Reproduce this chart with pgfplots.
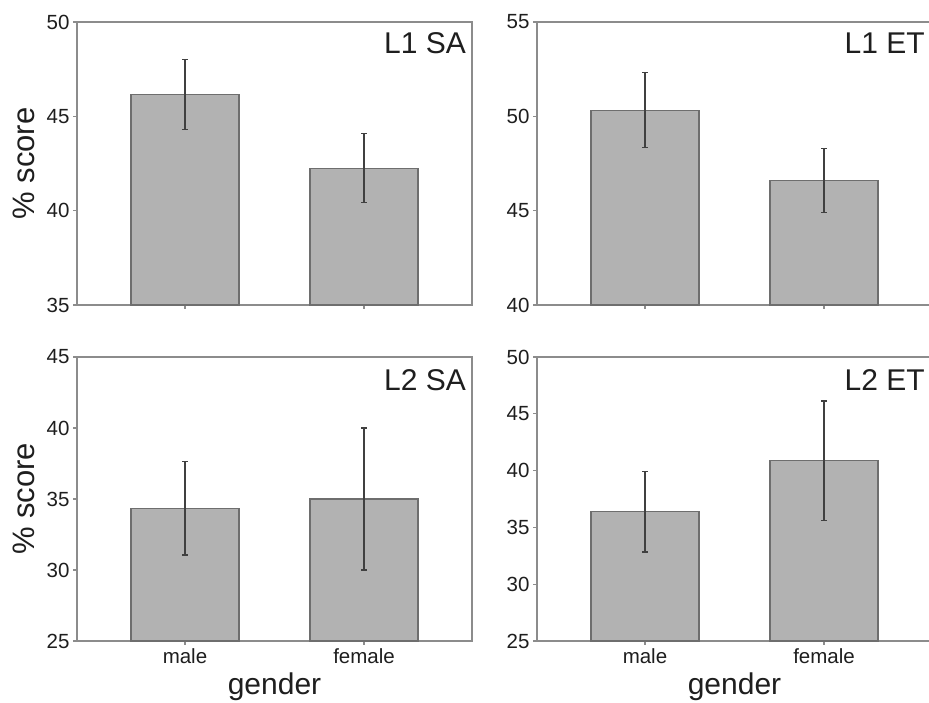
\documentclass[border=0pt]{standalone}
\usepackage{pgfplots}
\pgfplotsset{compat=1.18}
\usepackage{fontspec}
\setmainfont{Liberation Sans}
\definecolor{barfill}{HTML}{B2B2B2}
\definecolor{baredge}{HTML}{6E6E6E}
\definecolor{axgray}{HTML}{8C8C8C}
\definecolor{errc}{HTML}{404040}
\definecolor{txt}{HTML}{1E1E1E}
\tikzset{ptitle/.style={font=\fontsize{30bp}{36bp}\selectfont, text=txt, anchor=east, inner sep=0pt}}
\pgfplotsset{
  panel/.style={
    overlay,
    scale only axis, width=395bp, height=283bp,
    xmin=-0.603, xmax=1.603, xtick={0,1}, xticklabels={},
    ybar, bar width=108bp,
    axis line style={draw=axgray, line width=1.1bp},
    tick style={draw=axgray, line width=1.1bp},
    major tick length=4bp, tick align=outside,
    xtick pos=bottom, ytick pos=left,
    ticklabel style={font=\fontsize{20.5bp}{24bp}\selectfont, text=txt},
    /pgf/number format/assume math mode=true,
    ylabel style={font=\fontsize{31bp}{36bp}\selectfont, text=txt},
    clip=false,
  },
  bars/.style={fill=barfill, draw=baredge, line width=1.1bp,
    error bars/.cd, y dir=both, y explicit,
    error mark=-,
    error bar style={draw=errc, line width=1.2bp},
    error mark options={rotate=90, draw=errc, line width=1.2bp, mark size=2.7bp}},
  ylab/.style={ylabel={\% score}, ylabel style={at={(axis description cs:-0.134,0.5)}, anchor=center, rotate=0}},
  glab/.style={xticklabels={male,female}, xlabel={gender},
    xlabel style={font=\fontsize{30bp}{36bp}\selectfont, text=txt, at={(axis description cs:0.5,-0.19)}, anchor=base}},
}
\begin{document}
\begin{tikzpicture}
\path (0bp,0bp) rectangle (929bp,703bp);
\clip (0bp,0bp) rectangle (929bp,703bp);
% top-left
\begin{axis}[panel, at={(77bp,398bp)}, anchor=south west, ymin=35, ymax=50, ytick={35,40,45,50}, ylab]
\addplot[bars] coordinates {(0,46.15) +- (0,1.85) (1,42.25) +- (0,1.83)};
\node[ptitle] at (rel axis cs:0.985,0.926) {L1 SA};
\end{axis}
% top-right
\begin{axis}[panel, at={(537bp,398bp)}, anchor=south west, ymin=40, ymax=55, ytick={40,45,50,55}]
\addplot[bars] coordinates {(0,50.33) +- (0,2.0) (1,46.6) +- (0,1.68)};
\node[ptitle] at (rel axis cs:0.982,0.926) {L1 ET};
\end{axis}
% bottom-left
\begin{axis}[panel, height=284bp, at={(77bp,62bp)}, anchor=south west, ymin=25, ymax=45, ytick={25,30,35,40,45}, ylab, glab]
\addplot[bars] coordinates {(0,34.35) +- (0,3.3) (1,35.0) +- (0,5.0)};
\node[ptitle] at (rel axis cs:0.985,0.92) {L2 SA};
\end{axis}
% bottom-right
\begin{axis}[panel, height=284bp, at={(537bp,62bp)}, anchor=south west, ymin=25, ymax=50, ytick={25,30,35,40,45,50}, glab]
\addplot[bars] coordinates {(0,36.37) +- (0,3.54) (1,40.85) +- (0,5.27)};
\node[ptitle] at (rel axis cs:0.982,0.92) {L2 ET};
\end{axis}
\end{tikzpicture}
\end{document}
